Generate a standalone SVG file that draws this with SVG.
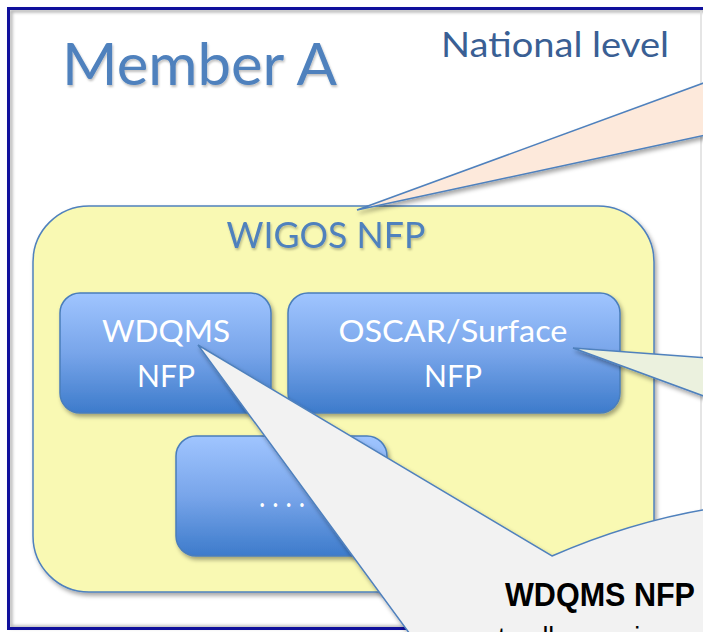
<svg xmlns="http://www.w3.org/2000/svg" width="703" height="632" viewBox="0 0 703 632">
  <defs>
    <linearGradient id="blueGrad" x1="0" y1="0" x2="0" y2="1">
      <stop offset="0" stop-color="#A0C5FF"/>
      <stop offset="0.5" stop-color="#78A5EA"/>
      <stop offset="1" stop-color="#3D7BCB"/>
    </linearGradient>
    <filter id="shadow" x="-10%" y="-10%" width="130%" height="130%">
      <feDropShadow dx="2" dy="3" stdDeviation="2" flood-color="#000" flood-opacity="0.35"/>
    </filter>
    <filter id="tshadow" x="-5%" y="-10%" width="115%" height="130%">
      <feDropShadow dx="1" dy="2" stdDeviation="1.2" flood-color="#000" flood-opacity="0.25"/>
    </filter>
    <filter id="blur"><feGaussianBlur stdDeviation="1.5"/></filter>
    <style>
      .box { fill: url(#blueGrad); stroke: #4A7EBB; stroke-width: 1.5; filter: url(#shadow); }
      .boxtext { font-family: Lato, "Open Sans", sans-serif; font-size: 30px; fill: #FFFFFF; text-anchor: middle; }
      .callout { stroke: #4F81BD; stroke-width: 1.5; stroke-linejoin: miter; filter: url(#shadow); }
      .blue { font-family: Lato, "Open Sans", sans-serif; fill: #4F81BD; }
    </style>
  </defs>

  <rect x="0" y="0" width="703" height="632" fill="#FFFFFF"/>

  <g id="member-a">
    <rect x="11" y="11" width="800" height="616" fill="none" stroke="#B0B0B0" stroke-width="3" filter="url(#blur)"/>
    <rect x="8.5" y="8.5" width="800" height="620" fill="none" stroke="#10109C" stroke-width="3"/>
    <line x1="701" y1="11" x2="701" y2="626" stroke="#DDDDDD" stroke-width="1.5"/>
    <text class="blue" x="62" y="85" font-size="59" textLength="275" lengthAdjust="spacingAndGlyphs" filter="url(#tshadow)">Member A</text>
    <text x="441" y="57" font-family="Lato, 'Open Sans', sans-serif" font-size="35" fill="#3A5F94" textLength="228" lengthAdjust="spacingAndGlyphs">National level</text>
  </g>

  <g id="wigos-nfp">
    <rect x="33" y="206" width="621" height="386" rx="56" ry="56" fill="#F9F9B3" stroke="#4F81BD" stroke-width="1.5" filter="url(#shadow)"/>
    <text class="blue" x="326" y="248" font-size="36" text-anchor="middle" textLength="199" lengthAdjust="spacingAndGlyphs" filter="url(#tshadow)">WIGOS NFP</text>
  </g>

  <g id="wdqms-nfp">
    <rect class="box" x="60" y="293" width="211" height="120" rx="20" ry="20"/>
    <text class="boxtext" x="166" y="342" textLength="128" lengthAdjust="spacingAndGlyphs">WDQMS</text>
    <text class="boxtext" x="166" y="387">NFP</text>
  </g>

  <g id="oscar-nfp">
    <rect class="box" x="288" y="293" width="332" height="120" rx="20" ry="20"/>
    <text class="boxtext" x="453" y="342" textLength="229" lengthAdjust="spacingAndGlyphs">OSCAR/Surface</text>
    <text class="boxtext" x="453" y="387">NFP</text>
  </g>

  <g id="other-nfp">
    <rect class="box" x="176" y="436" width="211" height="120" rx="20" ry="20"/>
    <text class="boxtext" x="282" y="507" font-size="28" textLength="46" lengthAdjust="spacingAndGlyphs">. . . .</text>
  </g>

  <g id="connectors">
    <path class="callout" fill="#FDE9DB" d="M357,210 L720,77 L720,132 Z"/>
    <path class="callout" fill="#EBF1DE" d="M573,348 L720,359 L720,402 Z"/>
    <path class="callout" fill="#F2F2F2" d="M198,345 L552,556 Q634,520 720,507 L720,645 L418,645 Z"/>
  </g>

  <g id="wdqms-note">
    <text x="600" y="606" font-family="'Liberation Sans', Arial, sans-serif" font-weight="bold" font-size="34" fill="#000000" text-anchor="middle" textLength="190" lengthAdjust="spacingAndGlyphs">WDQMS NFP</text>
    <text x="498" y="648" font-family="'Liberation Sans', Arial, sans-serif" font-size="30" fill="#000000" textLength="157" lengthAdjust="spacingAndGlyphs">to all users in</text>
  </g>
</svg>
